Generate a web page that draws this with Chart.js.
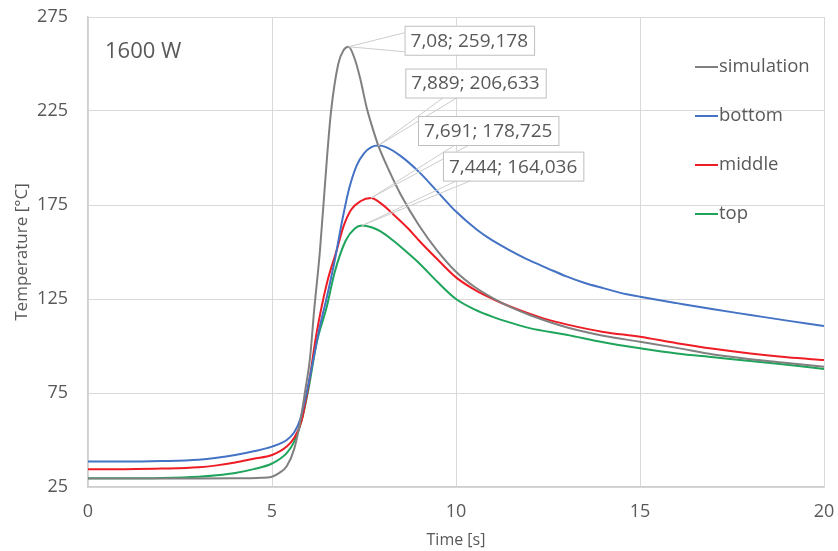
<!DOCTYPE html>
<html>
<head>
<meta charset="utf-8">
<script src="https://cdn.jsdelivr.net/npm/chart.js@4.4.1/dist/chart.umd.min.js"></script>
<style>
  html, body { margin: 0; padding: 0; background: #ffffff; }
  #wrap { width: 838px; height: 551px; }
</style>
</head>
<body>
<div id="wrap"><canvas id="chart"></canvas></div>
<script>
const seriesNames = ['simulation', 'bottom', 'middle', 'top'];
const seriesColors = ['#808080', '#4472c4', '#ee1c25', '#1ea55b'];

const simTime = [0, 1, 2, 3, 4, 4.6, 5, 5.2, 5.4, 5.6, 5.76, 5.9, 6.03, 6.15, 6.3, 6.49, 6.6, 6.8, 6.95, 7.08, 7.26, 7.4, 7.57, 7.7, 7.9, 8.2, 8.5, 9, 9.5, 10, 10.5, 11, 11.5, 12, 13, 14, 15, 16, 17, 18, 19, 20];
const simTemp = [29.5, 29.5, 29.5, 29.5, 29.6, 29.8, 30.5, 32.5, 36, 45, 59, 76, 93, 120, 150, 199, 224, 250, 257.5, 259.178, 252, 242, 227, 218, 206, 192.5, 180.5, 164, 150.5, 139.5, 131.5, 125.5, 120.5, 116.5, 110, 105.5, 102.3, 99, 95.5, 93, 91, 89];

const bottomTime = [0, 1, 2, 3, 3.5, 4, 4.5, 5, 5.4, 5.6, 5.76, 5.94, 6.12, 6.3, 6.49, 6.71, 6.9, 7.1, 7.3, 7.5, 7.7, 7.889, 8.1, 8.5, 9, 9.5, 10, 10.56, 11, 11.5, 12, 12.5, 13, 13.5, 14, 14.64, 15, 16, 17, 18, 19, 20];
const bottomTemp = [38.5, 38.5, 38.8, 39.5, 40.5, 42, 44, 46.5, 50, 54, 60.6, 75, 92.6, 110.3, 126, 146, 166, 184, 196, 202.5, 205.8, 206.633, 205.8, 201, 192.5, 182, 171.5, 162, 156, 150.5, 145.5, 141.2, 137, 133.5, 130.8, 127.5, 126.2, 122.8, 119.5, 116.5, 113.5, 110.6];

const middleTime = [0, 1, 2, 3, 3.5, 4, 4.5, 5, 5.4, 5.6, 5.8, 6, 6.21, 6.49, 6.76, 6.95, 7.15, 7.4, 7.691, 7.95, 8.3, 8.7, 9, 9.5, 10, 10.5, 11, 11.47, 12.37, 13, 14, 15, 16, 17, 18, 19, 20];
const middleTemp = [34.4, 34.5, 34.8, 35.5, 36.5, 38, 40, 42, 46.5, 51, 60, 80, 106.7, 133.3, 151, 164, 172.5, 177, 178.725, 176, 170, 162.5, 156, 146, 136.5, 130, 125, 121, 114.7, 111.5, 107.5, 104.9, 101.5, 98.5, 96, 94, 92.5];

const topTime = [0, 1, 2, 3, 3.5, 4, 4.5, 5, 5.4, 5.6, 5.8, 6, 6.21, 6.49, 6.7, 7, 7.25, 7.444, 7.7, 7.95, 8.3, 8.66, 9, 9.5, 10, 10.5, 11, 11.5, 12, 13, 14, 15, 16, 17, 18, 19, 20];
const topTemp = [29.6, 29.6, 29.8, 30.5, 31.3, 32.5, 34.5, 37.5, 43, 49, 60, 78, 101.4, 121, 139, 156, 162.5, 164.036, 163.2, 161, 156, 150, 144, 134, 125, 119.5, 115.5, 112.3, 109.5, 106, 102, 98.8, 96, 94, 92, 90, 87.8];

// Peak values shown in the callouts.
const peakTime = [7.08, 7.889, 7.691, 7.444];
const peakTemp = [259.178, 206.633, 178.725, 164.036];

const xTicks = [0, 5, 10, 15, 20];
const yTicks = [25, 75, 125, 175, 225, 275];

const allTimes = [simTime, bottomTime, middleTime, topTime];
const allTemps = [simTemp, bottomTemp, middleTemp, topTemp];

const datasets = seriesNames.map((name, i) => ({
  label: name,
  data: allTimes[i].map((t, j) => ({x: t, y: allTemps[i][j]})),
  borderColor: seriesColors[i],
  backgroundColor: seriesColors[i],
  borderWidth: 2,
  pointRadius: 0,
  cubicInterpolationMode: 'monotone',
  fill: false,
}));

const textColor = '#595959';
const gridColor = '#d9d9d9';
const fontFamily = '"Open Sans", "DejaVu Sans", sans-serif';

// Callout boxes: offset of the box from its peak (px), and where the leader meets it.
const calloutLayout = [
  {dx: 56, dy: -21, attach: 'left'},
  {dx: 27, dy: -77, attach: 'bottom', base: 38},
  {dx: 47, dy: -82, attach: 'bottom', base: 37},
  {dx: 81, dy: -74, attach: 'bottom', base: 14},
];

const fmt = (v) => String(v).replace('.', ',');

const calloutPlugin = {
  id: 'callouts',
  afterDatasetsDraw: (chart) => {
    const {ctx, scales: {x, y}} = chart;
    ctx.save();
    ctx.font = '19px ' + fontFamily;
    ctx.textBaseline = 'middle';
    ctx.textAlign = 'left';

    peakTime.forEach((t, i) => {
      const px = x.getPixelForValue(t);
      const py = y.getPixelForValue(peakTemp[i]);
      const lay = calloutLayout[i];
      const label = fmt(t) + '; ' + fmt(peakTemp[i]);
      const w = ctx.measureText(label).width + 12;
      const h = 29;
      const bx = px + lay.dx;
      const by = py + lay.dy;

      // leader wedge
      ctx.strokeStyle = '#cccccc';
      ctx.lineWidth = 1;
      ctx.beginPath();
      if (lay.attach === 'left') {
        ctx.moveTo(bx, by + 7);
        ctx.lineTo(px, py);
        ctx.lineTo(bx, by + 26);
      } else {
        ctx.moveTo(bx + lay.base, by + h);
        ctx.lineTo(px, py);
        ctx.lineTo(bx + lay.base + 14, by + h);
      }
      ctx.stroke();

      ctx.fillStyle = '#ffffff';
      ctx.fillRect(bx, by, w, h);
      ctx.strokeStyle = '#bfbfbf';
      ctx.strokeRect(bx + 0.5, by + 0.5, w, h);

      ctx.fillStyle = textColor;
      ctx.fillText(label, bx + 6, by + h / 2 + 1);
    });
    ctx.restore();
  }
};

// Power label and the legend inside the plot.
const annotationPlugin = {
  id: 'annotations',
  afterDraw: (chart) => {
    const {ctx, chartArea: {left, top, right}} = chart;
    ctx.save();
    ctx.fillStyle = textColor;
    ctx.textBaseline = 'middle';
    ctx.textAlign = 'left';
    ctx.font = '22px ' + fontFamily;
    ctx.fillText('1600 W', left + 17, top + 35);

    ctx.font = '18.5px ' + fontFamily;
    seriesNames.forEach((name, i) => {
      const ly = top + 50 + i * 49;
      ctx.strokeStyle = seriesColors[i];
      ctx.lineWidth = 2;
      ctx.beginPath();
      ctx.moveTo(right - 129, ly);
      ctx.lineTo(right - 106, ly);
      ctx.stroke();
      ctx.fillStyle = textColor;
      ctx.fillText(name, right - 105, ly);
    });
    ctx.restore();
  }
};

const config = {
  type: 'line',
  data: {datasets: datasets},
  options: {
    responsive: true,
    maintainAspectRatio: false,
    animation: false,
    layout: {
      padding: {top: 17, right: 14, left: 0, bottom: 0}
    },
    plugins: {
      legend: {display: false},
      tooltip: {enabled: false}
    },
    scales: {
      x: {
        type: 'linear',
        min: 0,
        max: 20,
        afterBuildTicks: (scale) => {
          scale.ticks = xTicks.map(v => ({value: v}));
        },
        afterFit: (scale) => {
          scale.height = 64;
          // keep the tick labels from adding extra side padding
          scale.paddingLeft = 0;
          scale.paddingRight = 0;
        },
        ticks: {
          padding: 14,
          color: textColor,
          font: {family: fontFamily, size: 18}
        },
        grid: {color: gridColor, drawTicks: false},
        border: {color: '#cfcfcf', width: 1.5},
        title: {
          display: true,
          text: 'Time [s]',
          color: textColor,
          font: {family: fontFamily, size: 16},
          padding: {top: 0, bottom: 1}
        }
      },
      y: {
        type: 'linear',
        min: 25,
        max: 275,
        afterBuildTicks: (scale) => {
          scale.ticks = yTicks.map(v => ({value: v}));
        },
        afterFit: (scale) => {
          scale.width = 88;
          scale.paddingTop = 0;
          scale.paddingBottom = 0;
        },
        ticks: {
          padding: 20,
          color: textColor,
          font: {family: fontFamily, size: 18}
        },
        grid: {color: gridColor, drawTicks: false},
        border: {color: '#cfcfcf', width: 1.5},
        title: {
          display: true,
          text: 'Temperature [°C]',
          color: textColor,
          font: {family: fontFamily, size: 17},
          padding: {top: 12, bottom: 0}
        }
      }
    }
  },
  plugins: [calloutPlugin, annotationPlugin]
};

new Chart(document.getElementById('chart'), config);
</script>
</body>
</html>
